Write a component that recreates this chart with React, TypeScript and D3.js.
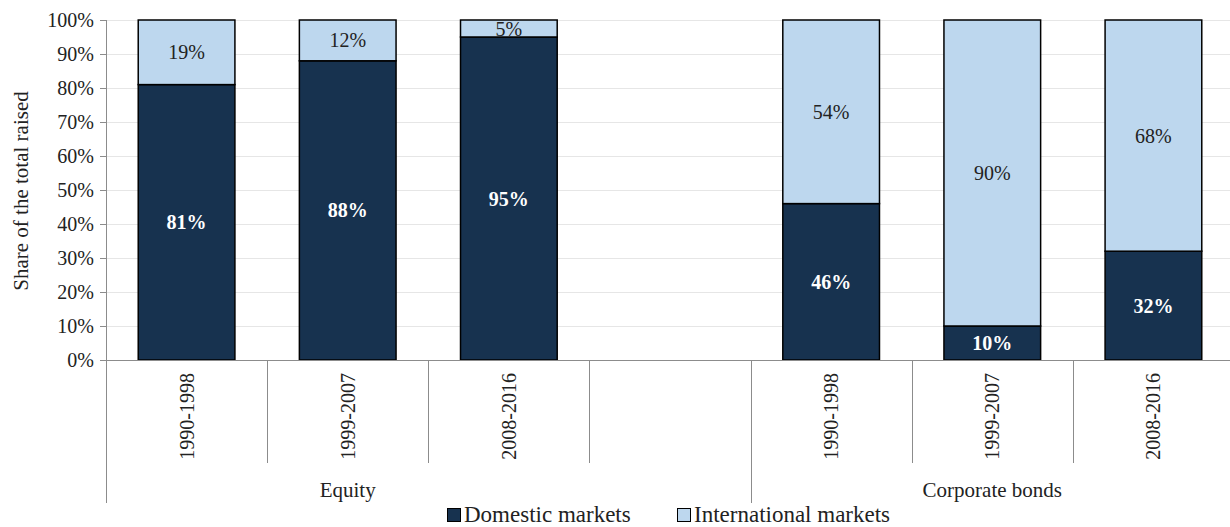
import { useRef, useEffect } from "react";
import * as d3 from "d3";

// slots: 3 equity periods, one empty gap, 3 bond periods
const slots = ["eq-1990", "eq-1999", "eq-2008", "gap", "cb-1990", "cb-1999", "cb-2008"];
const periodLabels = ["1990-1998", "1999-2007", "2008-2016", "", "1990-1998", "1999-2007", "2008-2016"];
const domestic = [81, 88, 95, null, 46, 10, 32];
const international = [19, 12, 5, null, 54, 90, 68];
const groups = [
  { name: "Equity", from: 0, to: 2 },
  { name: "Corporate bonds", from: 4, to: 6 },
];
const yTicks = [0, 10, 20, 30, 40, 50, 60, 70, 80, 90, 100];

const DARK = "#17324f";
const LIGHT = "#bdd7ee";
const FONT = "'Liberation Serif', 'DejaVu Serif', serif";

export default function App() {
  const svgRef = useRef<SVGSVGElement>(null);

  useEffect(() => {
    if (!svgRef.current) return;
    const width = 1230;
    const height = 527;
    const svg = d3.select(svgRef.current);
    svg.selectAll("*").remove();
    svg.attr("width", width).attr("height", height);

    const left = 106;
    const top = 20;
    const bottom = 360;

    const x = d3.scaleBand<string>().domain(slots).range([left, 1234]).padding(0);
    const y = d3.scaleLinear().domain([0, 100]).range([bottom, top]);
    const barW = x.bandwidth() * 0.6;

    // gridlines
    svg
      .append("g")
      .selectAll("line")
      .data(yTicks.filter((t) => t > 0))
      .enter()
      .append("line")
      .attr("x1", left)
      .attr("x2", width)
      .attr("y1", (d) => Math.round(y(d)) + 0.5)
      .attr("y2", (d) => Math.round(y(d)) + 0.5)
      .attr("stroke", "#e6e6e6")
      .attr("stroke-width", 1);

    // y axis
    const yAxis = svg
      .append("g")
      .attr("transform", `translate(${left},0)`)
      .call(
        d3
          .axisLeft(y)
          .tickValues(yTicks)
          .tickSize(6)
          .tickPadding(6)
          .tickFormat((d) => `${d}%`)
      );
    yAxis.select(".domain").remove();
    yAxis.selectAll(".tick line").attr("stroke", "#8c8c8c");
    yAxis
      .selectAll(".tick text")
      .attr("font-family", FONT)
      .attr("font-size", 20)
      .attr("fill", "#222");

    svg
      .append("line")
      .attr("x1", left + 0.5)
      .attr("x2", left + 0.5)
      .attr("y1", top)
      .attr("y2", 503)
      .attr("stroke", "#8c8c8c");

    svg
      .append("text")
      .attr("transform", `translate(21,191) rotate(-90)`)
      .attr("text-anchor", "middle")
      .attr("dy", "0.35em")
      .attr("font-family", FONT)
      .attr("font-size", 21)
      .attr("fill", "#222")
      .text("Share of the total raised");

    // stacked bars
    const bars = svg.append("g");
    slots.forEach((s, i) => {
      const d = domestic[i];
      const f = international[i];
      if (d == null || f == null) return;
      const cx = (x(s) as number) + x.bandwidth() / 2;
      bars
        .append("rect")
        .attr("x", cx - barW / 2)
        .attr("width", barW)
        .attr("y", y(d))
        .attr("height", y(0) - y(d))
        .attr("fill", DARK)
        .attr("stroke", "#000")
        .attr("stroke-width", 1.5);
      bars
        .append("rect")
        .attr("x", cx - barW / 2)
        .attr("width", barW)
        .attr("y", y(d + f))
        .attr("height", y(d) - y(d + f))
        .attr("fill", LIGHT)
        .attr("stroke", "#000")
        .attr("stroke-width", 1.5);
      bars
        .append("text")
        .attr("x", cx)
        .attr("y", (y(0) + y(d)) / 2)
        .attr("dy", "0.35em")
        .attr("text-anchor", "middle")
        .attr("font-family", FONT)
        .attr("font-size", 20)
        .attr("font-weight", "bold")
        .attr("fill", "#fff")
        .text(`${d}%`);
      bars
        .append("text")
        .attr("x", cx)
        .attr("y", (y(d) + y(d + f)) / 2)
        .attr("dy", "0.35em")
        .attr("text-anchor", "middle")
        .attr("font-family", FONT)
        .attr("font-size", 20)
        .attr("fill", "#222")
        .text(`${f}%`);
    });

    // category axis
    svg
      .append("line")
      .attr("x1", left)
      .attr("x2", width)
      .attr("y1", bottom + 0.5)
      .attr("y2", bottom + 0.5)
      .attr("stroke", "#8c8c8c");

    const cat = svg.append("g");
    slots.forEach((s, i) => {
      const x0 = x(s) as number;
      if (i > 0) {
        const isGroupEdge = groups.some((g) => g.from === i) && slots[i - 1] === "gap";
        cat
          .append("line")
          .attr("x1", Math.round(x0) + 0.5)
          .attr("x2", Math.round(x0) + 0.5)
          .attr("y1", bottom)
          .attr("y2", isGroupEdge ? 503 : 463)
          .attr("stroke", "#8c8c8c");
      }
      if (periodLabels[i]) {
        cat
          .append("text")
          .attr("transform", `translate(${x0 + x.bandwidth() / 2},373) rotate(-90)`)
          .attr("text-anchor", "end")
          .attr("dy", "0.35em")
          .attr("font-family", FONT)
          .attr("font-size", 20)
          .attr("fill", "#222")
          .text(periodLabels[i]);
      }
    });

    groups.forEach((g) => {
      const x0 = x(slots[g.from]) as number;
      const x1 = (x(slots[g.to]) as number) + x.bandwidth();
      cat
        .append("text")
        .attr("x", (x0 + x1) / 2)
        .attr("y", 497)
        .attr("text-anchor", "middle")
        .attr("font-family", FONT)
        .attr("font-size", 21)
        .attr("fill", "#222")
        .text(g.name);
    });

    // legend
    const legend = [
      { label: "Domestic markets", color: DARK, x: 447 },
      { label: "International markets", color: LIGHT, x: 677 },
    ];
    const lg = svg.append("g");
    legend.forEach((l) => {
      lg.append("rect")
        .attr("x", l.x + 0.5)
        .attr("y", 508.5)
        .attr("width", 13)
        .attr("height", 13)
        .attr("fill", l.color)
        .attr("stroke", "#000")
        .attr("stroke-width", 1);
      lg.append("text")
        .attr("x", l.x + 17)
        .attr("y", 522)
        .attr("font-family", FONT)
        .attr("font-size", 23)
        .attr("fill", "#222")
        .text(l.label);
    });
  }, []);

  return <svg ref={svgRef} style={{ position: "absolute", left: 0, top: 0 }} />;
}
